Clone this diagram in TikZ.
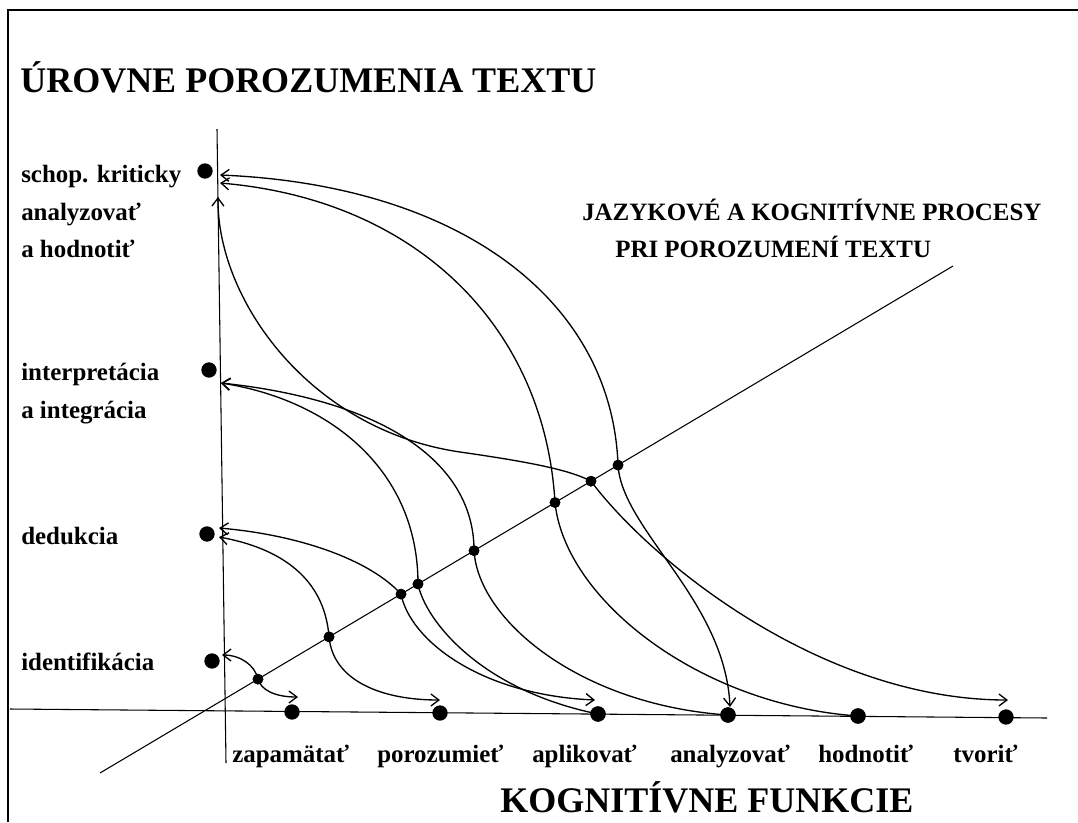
\documentclass[tikz,border=0pt]{standalone}
\usepackage{fontspec}
\setmainfont{Liberation Serif}[UprightFont=*,BoldFont=* Bold]
\usetikzlibrary{arrows.meta,calc}
\begin{document}
\begin{tikzpicture}[x=0.75pt,y=-0.75pt,
  axis/.style={line width=0.8pt},
  frame/.style={line width=2pt},
  conn/.style={line width=1pt},
  bigdot/.style={circle,fill,inner sep=0pt,minimum size=11.5pt},
  smalldot/.style={circle,fill,inner sep=0pt,minimum size=8pt},
  lbl/.style={anchor=base west,inner sep=0pt,font=\fontsize{18.7}{22}\selectfont\bfseries},
  head/.style={anchor=base west,inner sep=0pt,font=\fontsize{27}{32}\selectfont\bfseries},
  >={Straight Barb[length=6pt,width=9pt]}
]
\useasboundingbox (0,0) rectangle (1078,822);
% frame
\coordinate (f1) at (8,822); \coordinate (f2) at (8,10); \coordinate (f3) at (1078,10);
\draw[frame] (f1) -- (f2) -- (f3);

% texts
\node[head] (title) at (20,92) {ÚROVNE POROZUMENIA TEXTU};
\node[head] (kog) at (500,812) {KOGNITÍVNE FUNKCIE};
\node[lbl] (jaz1) at (582,220) {JAZYKOVÉ A KOGNITÍVNE PROCESY};
\node[lbl] (jaz2) at (615,257) {PRI POROZUMENÍ TEXTU};
\node[lbl] (s1) at (21,182) {schop. kriticky};
\node[lbl] (s2) at (21,220) {analyzovať};
\node[lbl] (s3) at (21,257) {a hodnotiť};
\node[lbl] (i1) at (21,380) {interpretácia};
\node[lbl] (i2) at (21,418) {a integrácia};
\node[lbl] (de) at (21,544) {dedukcia};
\node[lbl] (idf) at (21,670) {identifikácia};
\node[lbl] (bz) at (232,762) {zapamätať};
\node[lbl] (bp) at (377,762) {porozumieť};
\node[lbl] (ba) at (532,762) {aplikovať};
\node[lbl] (ban) at (670,762) {analyzovať};
\node[lbl] (bh) at (818,762) {hodnotiť};
\node[lbl] (bt) at (953,762) {tvoriť};

% axes
\coordinate (vtop) at (217,129); \coordinate (vbot) at (226,763);
\coordinate (hl) at (10,709); \coordinate (hr) at (1047,718);
\coordinate (dbl) at (100,773); \coordinate (dtr) at (953,266);
\draw[axis] (vtop) -- (vbot);
\draw[axis] (hl) -- (hr);
\draw[axis] (dbl) -- (dtr);

% dots on diagonal
\node[smalldot] (d1) at ($(dbl)!0.1852!(dtr)$) {};
\node[smalldot] (d2) at ($(dbl)!0.2685!(dtr)$) {};
\node[smalldot] (d3) at ($(dbl)!0.3529!(dtr)$) {};
\node[smalldot] (d4) at ($(dbl)!0.3728!(dtr)$) {};
\node[smalldot] (d5) at ($(dbl)!0.4385!(dtr)$) {};
\node[smalldot] (d6) at ($(dbl)!0.5334!(dtr)$) {};
\node[smalldot] (d7) at ($(dbl)!0.5756!(dtr)$) {};
\node[smalldot] (d8) at ($(dbl)!0.6073!(dtr)$) {};

% level dots
\node[bigdot] (L1) at (205,171) {};
\node[bigdot] (L2) at (209,370) {};
\node[bigdot] (L3) at (207,534) {};
\node[bigdot] (L4) at (212,661) {};
% function dots
\node[bigdot] (h1) at (292,712) {};
\node[bigdot] (h2) at (440,713) {};
\node[bigdot] (h3) at (598,714) {};
\node[bigdot] (h4) at (728,715) {};
\node[bigdot] (h5) at (858,716) {};
\node[bigdot] (h6) at (1006,717) {};

% arrow end points
\coordinate (a_s1) at (220,175);
\coordinate (a_s2) at (220,183);
\coordinate (a_s3) at (218,197);
\coordinate (a_i) at (221,383);
\coordinate (a_d1) at (219,528);
\coordinate (a_d2) at (219,537);
\coordinate (a_id) at (222,655);
\coordinate (b_z) at (298,697);
\coordinate (b_p) at (440,700);
\coordinate (b_a) at (595,700);
\coordinate (b_an) at (730,707);
\coordinate (b_t) at (1008,700);
\coordinate (m8) at (460,452);

% connectors
\draw[conn,<->] (a_id) .. controls (240,655) and (255,665) .. (d1.center)
   .. controls (261,690) and (275,697) .. (b_z);
\draw[conn,<->] (a_d2) .. controls (290,550) and (325,585) .. (d2.center)
   .. controls (333,680) and (380,700) .. (b_p);
\draw[conn,<->] (a_d1) .. controls (300,535) and (370,560) .. (d3.center)
   .. controls (410,640) and (480,695) .. (b_a);
\draw[conn,<-] (a_i) .. controls (330,400) and (418,470) .. (d4.center)
   .. controls (425,620) and (480,690) .. (h3.center);
\draw[conn,<-] (a_i) .. controls (380,400) and (474,460) .. (d5.center)
   .. controls (478,620) and (580,705) .. (h4.center);
\draw[conn,<->] (a_s1) .. controls (460,185) and (612,300) .. (d8.center)
   .. controls (622,530) and (725,600) .. (b_an);
\draw[conn,<-] (a_s2) .. controls (420,200) and (545,330) .. (d6.center)
   .. controls (565,600) and (700,705) .. (h5.center);
\draw[conn,<->] (a_s3) .. controls (217,300) and (310,430) .. (m8)
   .. controls (530,462) and (570,470) .. (d7.center)
   .. controls (650,560) and (820,700) .. (b_t);

% redraw dots on top
\foreach \n in {d1,d2,d3,d4,d5,d6,d7,d8} \fill (\n) circle (4pt);
\foreach \n in {h3,h4,h5} \fill (\n) circle (5.75pt);
\end{tikzpicture}
\end{document}
